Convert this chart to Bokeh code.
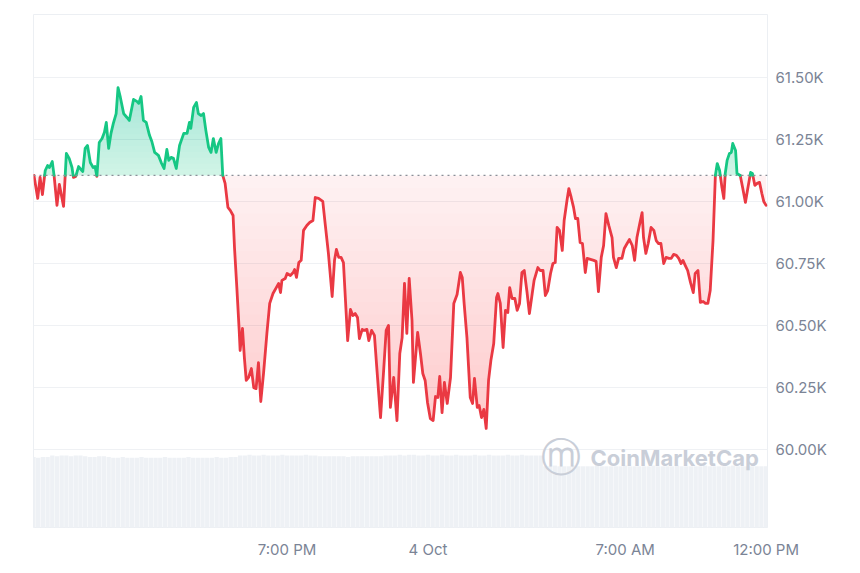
import numpy as np
from bokeh.plotting import figure
from bokeh.models import Range1d, FixedTicker, Label, Span
from bokeh.embed import file_html
from bokeh.resources import INLINE

# ---- data (minutes after 10:00 AM, 3 Oct; BTC price in USD) ----
minutes = [1, 9, 14, 19, 25, 30, 34, 40, 44, 50, 55, 64, 70, 76, 82, 85, 90, 96, 101, 105,
           110, 115, 121, 127, 131, 135, 140, 146, 151, 155, 160, 165, 170, 176, 180, 185, 192, 199, 204, 213,
           220, 224, 229, 234, 240, 247, 252, 258, 266, 272, 278, 284, 288, 293, 298, 304, 311, 320, 327, 332,
           335, 341, 347, 351, 357, 362, 367, 373, 378, 383, 389, 394, 399, 403, 408, 414, 419, 425, 428, 433,
           438, 440, 445, 449, 453, 458, 464, 469, 474, 479, 484, 490, 497, 503, 510, 517, 522, 526, 529, 536,
           540, 547, 553, 556, 560, 565, 570, 575, 582, 588, 595, 600, 607, 616, 621, 628, 636, 641, 645, 650,
           655, 660, 664, 669, 675, 680, 685, 690, 694, 700, 704, 710, 714, 720, 726, 731, 739, 746, 751, 756,
           760, 767, 774, 780, 785, 790, 795, 800, 806, 809, 818, 824, 829, 834, 839, 845, 851, 856, 861, 865,
           870, 875, 881, 888, 895, 902, 909, 913, 917, 923, 930, 935, 939, 945, 949, 954, 959, 964, 969, 974,
           980, 986, 989, 994, 1000, 1005, 1010, 1014, 1019, 1025, 1030, 1035, 1040, 1045, 1051, 1056, 1062, 1066, 1074, 1079,
           1085, 1090, 1095, 1101, 1106, 1111, 1115, 1120, 1126, 1130, 1136, 1140, 1145, 1150, 1154, 1159, 1164, 1169, 1175, 1179,
           1186, 1193, 1198, 1203, 1209, 1214, 1219, 1225, 1232, 1235, 1241, 1246, 1253, 1258, 1264, 1269, 1275, 1280, 1285, 1291,
           1296, 1299, 1304, 1309, 1315, 1321, 1326, 1331, 1336, 1342, 1347, 1353, 1358, 1363, 1369, 1374, 1379, 1383, 1388, 1393,
           1399, 1405, 1409, 1415, 1420, 1426, 1431, 1436, 1441, 1447, 1452, 1456, 1461, 1466, 1470, 1473, 1477, 1482, 1486, 1489,
           1495, 1498, 1505, 1510, 1516, 1521, 1527, 1531, 1536, 1541, 1546, 1551, 1555, 1560]
prices = [61105, 61012, 61097, 61028, 61125, 61145, 61137, 61161, 61101, 60984, 61069, 60980, 61194, 61174, 61137, 61097, 61101, 61141, 61129, 61121,
          61214, 61226, 61157, 61137, 61141, 61101, 61238, 61254, 61279, 61319, 61214, 61275, 61315, 61355, 61460, 61420, 61355, 61339, 61327, 61412,
          61404, 61396, 61424, 61327, 61319, 61267, 61242, 61198, 61186, 61157, 61133, 61210, 61166, 61178, 61174, 61133, 61226, 61275, 61275, 61319,
          61295, 61380, 61400, 61355, 61347, 61355, 61287, 61218, 61198, 61254, 61198, 61234, 61254, 61105, 61073, 60976, 60964, 60943, 60814, 60652,
          60479, 60398, 60487, 60370, 60277, 60289, 60325, 60248, 60244, 60349, 60192, 60309, 60467, 60588, 60628, 60652, 60669, 60632, 60681, 60689,
          60709, 60701, 60713, 60725, 60693, 60753, 60762, 60883, 60903, 60915, 60923, 61016, 61012, 61000, 60911, 60790, 60616, 60762, 60806, 60774,
          60774, 60753, 60612, 60438, 60564, 60539, 60547, 60531, 60446, 60483, 60479, 60483, 60438, 60479, 60459, 60329, 60127, 60329, 60479, 60499,
          60168, 60289, 60115, 60386, 60450, 60669, 60467, 60689, 60519, 60269, 60471, 60386, 60305, 60277, 60188, 60123, 60115, 60212, 60208, 60293,
          60147, 60269, 60184, 60289, 60588, 60624, 60713, 60693, 60588, 60450, 60208, 60184, 60285, 60168, 60176, 60127, 60160, 60083, 60277, 60358,
          60426, 60612, 60628, 60588, 60410, 60560, 60551, 60652, 60608, 60608, 60560, 60588, 60713, 60721, 60632, 60547, 60628, 60681, 60733, 60721,
          60721, 60620, 60640, 60709, 60749, 60753, 60895, 60883, 60802, 60923, 61004, 61052, 61016, 60976, 60931, 60931, 60834, 60830, 60713, 60770,
          60766, 60762, 60758, 60636, 60774, 60822, 60951, 60903, 60854, 60774, 60733, 60770, 60770, 60810, 60830, 60846, 60822, 60762, 60854, 60911,
          60955, 60854, 60790, 60830, 60895, 60883, 60842, 60830, 60830, 60749, 60774, 60770, 60770, 60786, 60782, 60770, 60749, 60762, 60741, 60721,
          60673, 60632, 60709, 60721, 60592, 60596, 60588, 60588, 60640, 60842, 61105, 61153, 61125, 61056, 61012, 61113, 61166, 61194, 61198, 61234,
          61206, 61113, 61105, 61056, 60996, 61052, 61117, 61113, 61065, 61073, 61077, 61032, 61000, 60984]
open_price = 61105

# volume bars every 10 minutes (relative volume)
vol_minutes = list(range(0, 1561, 10))
volumes = [0.98, 0.97, 0.98, 0.98,
           1.00, 0.99, 1.00, 1.00, 0.99, 1.00, 1.00, 0.99, 0.98,
           0.98, 0.99, 0.99, 0.98,
           0.97, 0.97, 0.98, 0.97, 0.97, 0.97, 0.98, 0.97, 0.97, 0.97, 0.97, 0.98, 0.97, 0.97,
           0.97, 0.97, 0.98, 0.97, 0.97, 0.97, 0.97, 0.97, 0.98, 0.97, 0.97, 0.98, 0.98,
           1.00, 1.00, 1.01, 1.00, 1.00, 1.01, 1.00, 1.00, 1.00, 1.01, 1.00, 1.00, 1.00, 1.00, 1.01, 1.00, 1.00, 0.99,
           0.99, 0.99, 0.99, 0.99, 0.99, 0.98, 0.99, 0.99, 0.99, 0.99, 0.99, 0.99, 0.99, 1.00, 1.00,
           1.00, 1.01, 1.00, 1.01, 1.01, 1.00, 1.00, 1.01, 1.00, 1.00, 1.01, 1.00, 1.00, 1.01, 1.00, 1.00,
           1.00, 1.01, 1.00, 1.00, 1.01, 1.00, 1.00, 1.00, 1.01, 1.00, 1.00, 1.01, 1.00, 1.00, 1.00, 1.00,
           0.85, 0.85, 0.86, 0.85, 0.85, 0.85, 0.86, 0.85, 0.85, 0.85, 0.85, 0.86, 0.85, 0.85, 0.85, 0.85,
           0.85, 0.86, 0.85, 0.85, 0.85, 0.85, 0.85, 0.86, 0.85, 0.85, 0.85, 0.85, 0.86, 0.85, 0.85, 0.85,
           0.85, 0.85, 0.86, 0.85, 0.85, 0.85, 0.85, 0.85, 0.86, 0.85, 0.85, 0.85, 0.85, 0.85, 0.85, 0.85]

x_tick_minutes = [540, 840, 1260, 1560]
x_tick_labels = ["7:00 PM", "4 Oct", "7:00 AM", "12:00 PM"]
y_ticks = [60000, 60250, 60500, 60750, 61000, 61250, 61500]
y_tick_labels = ["60.00K", "60.25K", "60.50K", "60.75K", "61.00K", "61.25K", "61.50K"]

GREEN = "#16c784"
RED = "#ea3943"
FONT = "Inter"
LABEL_COLOR = "#7b8496"

# ---- insert exact baseline crossings so colours split cleanly ----
t = np.array(minutes, dtype=float)
pr = np.array(prices, dtype=float)
xs, ys = [t[0]], [pr[0]]
for i in range(1, len(t)):
    a, b = pr[i - 1] - open_price, pr[i] - open_price
    if a * b < 0:
        f = a / (a - b)
        xs.append(t[i - 1] + f * (t[i] - t[i - 1]))
        ys.append(open_price)
    xs.append(t[i])
    ys.append(pr[i])
xs = np.array(xs)
ys = np.array(ys)

p = figure(width=852, height=565, output_backend="svg", toolbar_location=None,
           x_range=Range1d(0, 1563), y_range=Range1d(59683, 61755),
           y_axis_location="right", min_border_left=33, min_border_right=85,
           min_border_top=14, min_border_bottom=38)
p.extra_y_ranges = {"vol": Range1d(0, 7.125)}
p.background_fill_color = "white"
p.border_fill_color = "white"
p.outline_line_color = "#eceff3"

# volume
p.vbar(x=vol_minutes, top=volumes, width=9.2, y_range_name="vol",
       fill_color="#eef1f5", line_color=None)

# red gradient fill (stacked translucent layers, darker with depth)
red_levels = np.linspace(open_price, pr.min(), 21)
for k, lev in enumerate(red_levels[:-1]):
    alpha = 0.07 if k == 0 else 0.012
    p.varea(x=xs, y1=np.minimum(ys, lev), y2=lev, fill_color=RED, fill_alpha=alpha)

# green gradient fill
green_levels = np.linspace(open_price, pr.max(), 16)
for k, lev in enumerate(green_levels[:-1]):
    alpha = 0.20 if k == 0 else 0.011
    p.varea(x=xs, y1=lev, y2=np.maximum(ys, lev), fill_color=GREEN, fill_alpha=alpha)

# baseline
p.add_layout(Span(location=open_price, dimension="width", line_color="#8a8f98",
                  line_width=1.2, line_dash="2 4"))

# line split by colour
y_green = np.where(ys >= open_price, ys, np.nan)
y_red = np.where(ys <= open_price, ys, np.nan)
p.line(x=xs, y=y_red, line_color=RED, line_width=2.8, line_join="round", line_cap="round")
p.line(x=xs, y=y_green, line_color=GREEN, line_width=2.8, line_join="round", line_cap="round")

# watermark
p.add_layout(Label(x=1124, y=59966, text="ⓜ", text_font="DejaVu Sans", text_font_size="40px",
                   text_color="#c9ced8", text_align="center", text_baseline="middle"))
p.add_layout(Label(x=1186, y=59962, text="CoinMarketCap", text_font=FONT, text_font_size="22px",
                   text_font_style="bold", text_color="#c9ced8", text_align="left",
                   text_baseline="middle"))

# axes
p.yaxis.ticker = FixedTicker(ticks=y_ticks)
p.yaxis.major_label_overrides = dict(zip(y_ticks, y_tick_labels))
p.xaxis.ticker = FixedTicker(ticks=x_tick_minutes)
p.xaxis.major_label_overrides = dict(zip(x_tick_minutes, x_tick_labels))
for ax in (p.xaxis, p.yaxis):
    ax.axis_line_color = None
    ax.major_tick_line_color = None
    ax.minor_tick_line_color = None
    ax.major_tick_out = 0
    ax.major_tick_in = 0
    ax.minor_tick_out = 0
    ax.major_label_text_font = FONT
    ax.major_label_text_font_size = "15px"
    ax.major_label_text_color = LABEL_COLOR
p.yaxis.major_label_standoff = 8
p.xaxis.major_label_standoff = 12

p.xgrid.visible = False
p.ygrid.ticker = FixedTicker(ticks=y_ticks)
p.ygrid.grid_line_color = "#eff1f4"

open("out.html", "w").write(file_html(p, INLINE))
